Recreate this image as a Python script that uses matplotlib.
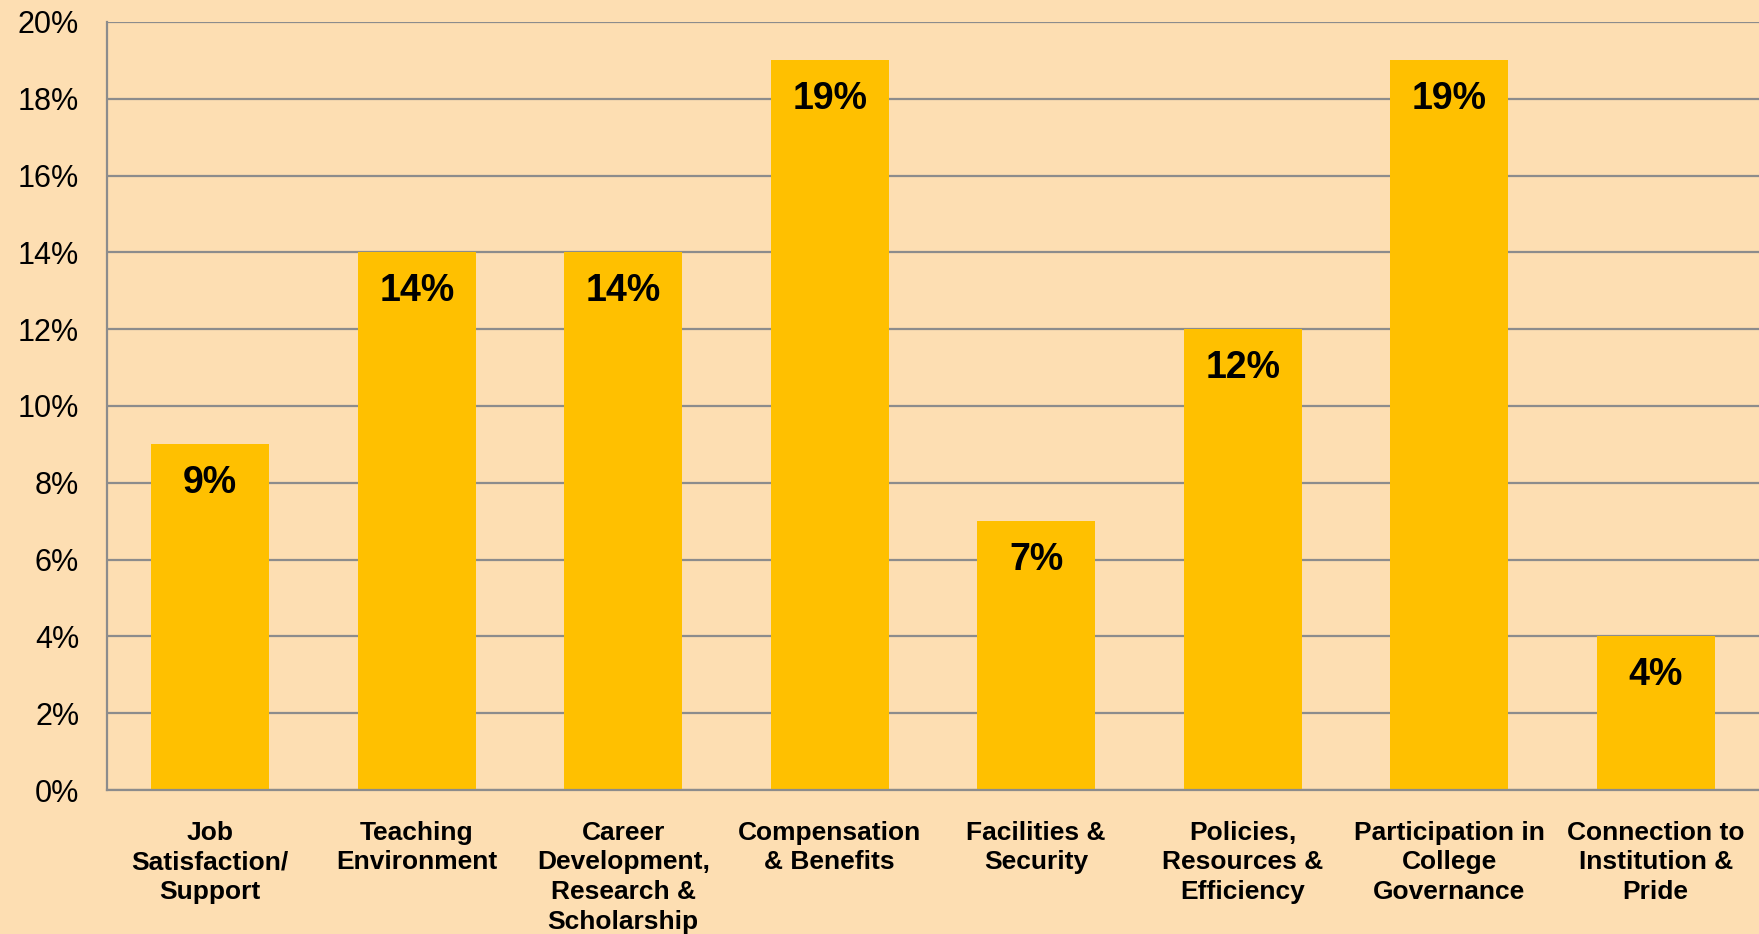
import matplotlib
matplotlib.use("Agg")
import matplotlib.pyplot as plt
from matplotlib import font_manager

categories = ["Job\nSatisfaction/\nSupport", "Teaching\nEnvironment",
              "Career\nDevelopment,\nResearch &\nScholarship", "Compensation\n& Benefits",
              "Facilities &\nSecurity", "Policies,\nResources &\nEfficiency",
              "Participation in\nCollege\nGovernance", "Connection to\nInstitution &\nPride"]
values = [9, 14, 14, 19, 7, 12, 19, 4]
yticks = [0, 2, 4, 6, 8, 10, 12, 14, 16, 18, 20]
ytick_labels = [f"{v}%" for v in yticks]

names = {f.name for f in font_manager.fontManager.ttflist}
narrow = "Liberation Sans Narrow" if "Liberation Sans Narrow" in names else "Liberation Sans"

bg = "#FDDEB2"
bar_color = "#FFC000"
grid_color = "#8C8C8C"

fig = plt.figure(figsize=(17.59, 9.34), dpi=100, facecolor=bg)
ax = fig.add_axes([107/1759, 1-790/934, 1-107/1759, (790-22)/934])
ax.set_facecolor(bg)

x = list(range(len(categories)))
ax.bar(x, values, width=0.57, color=bar_color, zorder=3)
ax.set_xlim(-0.5, len(categories)-0.5)
ax.set_ylim(0, 20)
ax.set_yticks(yticks)
ax.set_yticklabels(ytick_labels, fontsize=22, family="Liberation Sans", color="black")
ax.yaxis.grid(True, color=grid_color, linewidth=1.6, zorder=0)
ax.set_axisbelow(True)
ax.tick_params(axis="both", length=0)
ax.tick_params(axis="y", pad=20)
ax.set_xticks(x)
ax.set_xticklabels(categories, fontsize=19, fontweight="bold",
                   family=[narrow, "Liberation Sans"], linespacing=1.3, va="top")
ax.tick_params(axis="x", pad=22)
for s in ["top", "right"]:
    ax.spines[s].set_visible(False)
for s in ["left", "bottom"]:
    ax.spines[s].set_color(grid_color)
    ax.spines[s].set_linewidth(1.6)
    ax.spines[s].set_zorder(4)

for xi, v in zip(x, values):
    ax.text(xi, v - 1.0, f"{v}%", ha="center", va="center", fontsize=27,
            fontweight="bold", family="Liberation Sans", color="black", zorder=5)

fig.savefig("out.png", dpi=100, facecolor=bg)
